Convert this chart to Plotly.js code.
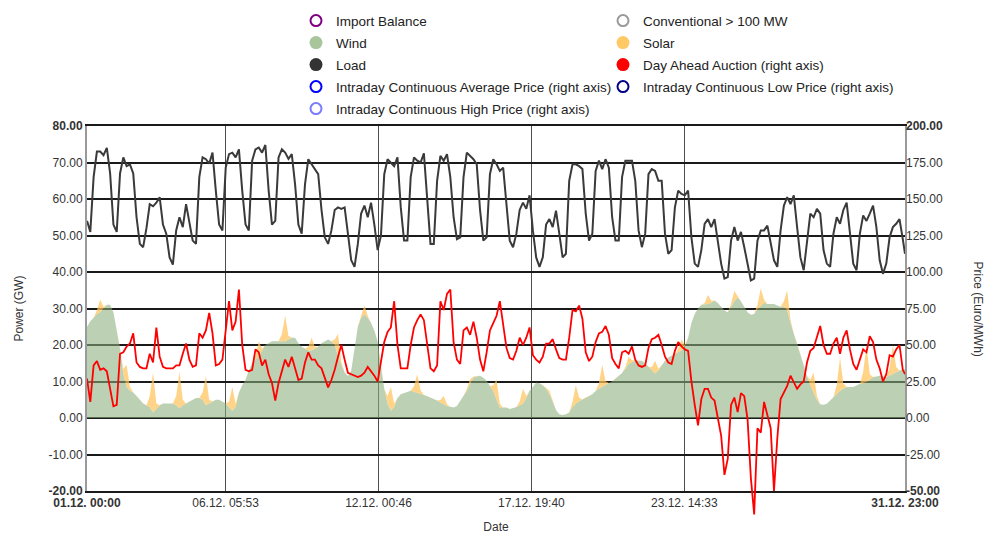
<!DOCTYPE html>
<html>
<head>
<meta charset="utf-8">
<script src="https://cdn.plot.ly/plotly-3.0.1.min.js"></script>
<style>
  html, body { margin: 0; padding: 0; background: #ffffff; }
  #chart { width: 985px; height: 534px; }
</style>
</head>
<body>
<div id="chart"></div>
<script>
// ---------------- data (3-hourly samples, Dec 1 00:00 ... Dec 31 21:00, plus Dec 31 23:00) ----------------
const START_DAY = '2016-12-01';
const STEP_HOURS = 3;
const LAST_HOUR = 743;

// Load (GW)
const loadGW = [
  54, 51, 66, 73, 73, 72, 74, 67,
  53, 51, 67, 71.4, 69, 69.5, 67, 55,
  47.7, 46.8, 52, 58.6, 58, 59, 60.5, 53,
  50.5, 44, 42, 51.4, 55, 52.3, 58.6, 54,
  48.6, 47.7, 66, 71.4, 70.9, 69.7, 72.7, 62.3,
  53, 51.4, 68.6, 72.3, 72.7, 71.4, 73.6, 62.3,
  53, 51.4, 70.5, 73.6, 74.1, 72.7, 74.8, 62.3,
  53, 54, 71.4, 73.6, 72.7, 71, 72.3, 64,
  53, 50.5, 64, 70.9, 69.5, 68.2, 66.8, 57,
  49.5, 47.7, 51.4, 57, 57.7, 57.3, 57.7, 50.5,
  43.2, 41.4, 47.7, 56, 58.2, 55, 59, 53,
  46, 50, 66.8, 70.9, 70, 69, 71.4, 57.7,
  48.6, 48.6, 66, 71.4, 70.5, 70, 72.5, 60.5,
  47.7, 47.7, 65, 71.8, 70.5, 72.3, 66, 55,
  49, 49.5, 66, 72.7, 71.8, 70.9, 69.5, 57,
  48.6, 49.5, 66.8, 70.9, 69.5, 67.7, 68.6, 57.7,
  48.6, 46.8, 50.5, 57, 59, 57.3, 61, 51.4,
  44, 41.4, 44, 53, 54.5, 52.3, 56.8, 50.5,
  44, 45, 65, 69.5, 69.5, 69, 68.2, 56,
  48.6, 50.5, 67.7, 70.5, 68.2, 70.9, 68.6, 55,
  48.6, 48.6, 66, 70.5, 70.5, 70.5, 65, 51.4,
  46.8, 50.5, 66.8, 68.2, 67.7, 65, 65, 50.5,
  45, 46, 57.7, 62.3, 61.4, 61, 62.3, 49.5,
  42.3, 41.4, 46, 53.2, 54.5, 52.3, 54.5, 47.7,
  42.3, 38.2, 38.6, 48.6, 52.3, 48.6, 51, 46.8,
  42.3, 37.7, 38.2, 48.6, 51.4, 51.4, 52.7, 47.7,
  43.2, 41.4, 51.4, 58.2, 60.5, 58.6, 61, 52.3,
  44, 40.5, 47.7, 56, 55, 57.3, 56, 46,
  42.3, 41.4, 50.5, 55, 53.2, 57, 59, 50.5,
  42.3, 40.5, 50.5, 55.5, 54, 56, 58.2, 52.3,
  43.2, 39.5, 42.3, 49.5, 52.3, 53.2, 54.5, 49,
  45
];

// Wind (GW)
const windGW = [
  25, 26.5, 27.5, 28.5, 29, 30, 31, 31,
  29, 24, 19, 12, 8.5, 7.5, 7, 6,
  5, 4, 3.5, 3, 1.5, 2.5, 3.5, 4,
  4, 4, 4, 3.5, 2.7, 3.5, 4, 4.5,
  5, 5.5, 5.5, 5, 3.5, 4, 4.5, 5,
  5, 4.5, 4, 3, 2, 3, 7, 9,
  10.5, 13, 15, 16, 17, 18.5, 20, 20.5,
  21, 21, 21, 21, 21, 21.5, 22, 22,
  20.5, 19.5, 19, 18.5, 18.5, 19, 19.5, 20.5,
  21, 21.5, 21, 20, 17, 14.5, 12.5, 11.5,
  13, 19, 25, 27.5, 28.4, 27.5, 26, 24,
  21, 14, 8, 4, 2, 3, 5.5, 6.5,
  6.8, 7.2, 7.5, 7.2, 7, 6.6, 6.3, 6,
  5.5, 5.2, 4.8, 4.4, 3.8, 3.3, 3, 2.9,
  3.3, 4.7, 6, 7.5, 9.3, 11.1, 11.4, 11.6,
  11, 10.2, 8.8, 7.5, 5, 2.9, 2.9, 2.9,
  2.5, 2.7, 3, 3.5, 4, 5.5, 7.5, 8.5,
  9.7, 9.5, 9, 8, 6.5, 4.5, 2.2, 1,
  0.8, 1, 1.5, 3, 4, 4.6, 5, 5.4,
  6, 6.5, 7.4, 8, 8.6, 9.1, 9.6, 10,
  10.7, 11.6, 12.3, 13.5, 14.8, 15.3, 15.7, 15.7,
  15.7, 15, 14, 13, 12.2, 13, 14.5, 15.7,
  16.6, 17, 17.5, 18, 18.5, 19.5, 22, 26,
  28.5, 30, 31, 31, 31.2, 31.6, 32.2, 31.5,
  30.5, 29.5, 29, 30.5, 32, 33, 32, 30.5,
  29, 28.3, 28.5, 29.8, 30.7, 31.6, 31.2, 31.2,
  31.2, 30.8, 30.5, 30.5, 29.5, 26, 23, 20.5,
  17.5, 14.5, 11.5, 9, 7, 5, 3.8, 3.6,
  3.9, 4.8, 5.7, 6.6, 7.5, 8, 8.5, 8.5,
  8.5, 8.9, 9.4, 9.6, 9.8, 10.5, 11.2, 11.4,
  11.6, 11.4, 11.2, 11.6, 12.1, 12.5, 13, 13.3,
  13.4
];

// Solar (GW)
const solarGW = [
  0, 0, 0, 1, 3.5, 0.5, 0, 0,
  0, 0, 0, 1.5, 6, 1, 0, 0,
  0, 0, 0, 3, 11, 1.5, 0, 0,
  0, 0, 0, 2.5, 10, 1.5, 0, 0,
  0, 0, 0, 2, 8, 1, 0, 0,
  0, 0, 0, 1.5, 6.5, 1, 0, 0,
  0, 0, 0, 1, 4, 0.5, 0, 0,
  0, 0, 0, 2, 7, 1, 0, 0,
  0, 0, 0, 1, 3.5, 0.5, 0, 0,
  0, 0, 0, 1.5, 6, 1, 0, 0,
  0, 0, 0, 0.5, 2.5, 0.5, 0, 0,
  0, 0, 0, 2, 6.5, 1, 0, 0,
  0, 0, 0, 1.5, 5, 1, 0, 0,
  0, 0, 0, 0.5, 2.2, 0.5, 0, 0,
  0, 0, 0, 0.5, 1.3, 0.3, 0, 0,
  0, 0, 0, 1.5, 5.5, 1, 0, 0,
  0, 0, 0, 1, 4, 0.5, 0, 0,
  0, 0, 0, 0.3, 1, 0.2, 0, 0,
  0, 0, 0, 1.5, 5, 1, 0, 0,
  0, 0, 0, 1.5, 6, 1, 0, 0,
  0, 0, 0, 0.5, 2, 0.5, 0, 0,
  0, 0, 0, 1, 3.5, 0.5, 0, 0,
  0, 0, 0, 1, 3, 0.5, 0, 0,
  0, 0, 0, 0.5, 2.5, 0.5, 0, 0,
  0, 0, 0, 0.8, 2.8, 0.5, 0, 0,
  0, 0, 0, 1.2, 4.8, 0.8, 0, 0,
  0, 0, 0, 1.5, 5.5, 1, 0, 0,
  0, 0, 0, 1.5, 5.5, 1, 0, 0,
  0, 0, 0, 2.5, 9, 1.5, 0, 0,
  0, 0, 0, 3, 10, 1.5, 0, 0,
  0, 0, 0, 2, 8, 1.5, 0, 0,
  0
];

// Day Ahead Auction price (Euro/MWh, right axis)
const dayAheadEUR = [
  27, 11, 36, 39, 33, 34, 32, 19,
  8, 9, 44, 45, 49, 51, 58, 38,
  35, 34, 34, 44, 38, 62, 42, 35,
  34, 34, 34, 36, 36, 44, 51, 40,
  35, 36, 58, 55, 60, 72, 58, 36,
  37, 40, 62, 80, 60, 66, 88, 50,
  33, 32, 33, 47, 45, 36, 40, 30,
  24, 12, 24, 33, 40, 35, 42, 34,
  26, 27, 38, 45, 40, 40, 36, 34,
  27, 21, 26, 33, 42, 50, 40, 31,
  30, 29, 28, 29, 31, 35, 32, 29,
  25, 40, 52, 59, 62, 80, 50, 34,
  34, 34, 50, 62, 67, 71, 67, 50,
  34, 32, 36, 80, 74, 85, 88, 52,
  40, 37, 60, 62, 57, 66, 55, 40,
  32, 45, 60, 65, 70, 80, 62, 48,
  41, 40, 46, 55, 50, 55, 62, 43,
  40, 38, 42, 51, 51, 54, 47, 41,
  40, 40, 55, 74, 73, 77, 68, 45,
  39, 42, 52, 58, 59, 63, 57, 41,
  37, 34, 45, 46, 44, 49, 40, 36,
  35, 36, 48, 54, 55, 57, 50, 42,
  38, 37, 46, 52, 49, 47, 46, 25,
  9, -5, 13, 20, 20, 14, 12, -1,
  -12, -39, -28, 9, 14, 4, 17, 15,
  -1, -41, -66, -7, -10, 11, 2, -7,
  -50, -14, 13, 17, 22, 29, 25, 20,
  23, 25, 38, 46, 48, 55, 63, 50,
  44, 44, 51, 55, 44, 55, 60, 47,
  37, 33, 40, 47, 45, 56, 52, 40,
  34, 25, 30, 43, 42, 47, 50, 33,
  30
];

// axes ticks
const tickTimes = ['2016-12-01 00:00', '2016-12-06 05:53', '2016-12-12 00:46',
                   '2016-12-17 19:40', '2016-12-23 14:33', '2016-12-31 23:00'];
const tickLabels = ['<b>01.12. 00:00</b>', '06.12. 05:53', '12.12. 00:46',
                    '17.12. 19:40', '23.12. 14:33', '<b>31.12. 23:00</b>'];
const powerTicks = [-20, -10, 0, 10, 20, 30, 40, 50, 60, 70, 80];
const priceTicks = [-50, -25, 0, 25, 50, 75, 100, 125, 150, 175, 200];

// legend entries (left column, right column)
const legendLeftNames = ['Import Balance', 'Wind', 'Load',
  'Intraday Continuous Average Price (right axis)', 'Intraday Continuous High Price (right axis)'];
const legendLeftColors = ['#800080', '#a9c59c', '#333333', '#0000ff', '#7b7bff'];
const legendLeftOpen = [true, false, false, true, true];
const legendRightNames = ['Conventional > 100 MW', 'Solar', 'Day Ahead Auction (right axis)',
  'Intraday Continuous Low Price (right axis)'];
const legendRightColors = ['#9a9a9a', '#ffc966', '#ff0000', '#00008b'];
const legendRightOpen = [true, false, false, true];

// ---------------- build ----------------
function pad(n) { return (n < 10 ? '0' : '') + n; }
const base = Date.UTC(2016, 11, 1, 0, 0);
const hours = [];
for (let h = 0; h < LAST_HOUR; h += STEP_HOURS) hours.push(h);
hours.push(LAST_HOUR);
const times = hours.map(h => {
  const d = new Date(base + h * 3600000);
  return d.getUTCFullYear() + '-' + pad(d.getUTCMonth() + 1) + '-' + pad(d.getUTCDate()) +
         ' ' + pad(d.getUTCHours()) + ':' + pad(d.getUTCMinutes());
});

const traces = [];
function addLegendEntries(names, colors, open, legendId, prefix) {
  names.forEach((name, i) => {
    traces.push({
      type: 'scatter', mode: 'markers', x: [null], y: [null], name: name,
      legend: legendId, legendgroup: prefix + i,
      xaxis: 'x', yaxis: 'y', hoverinfo: 'skip',
      marker: open[i]
        ? { symbol: 'circle-open', size: 11, color: colors[i], line: { width: 2, color: colors[i] } }
        : { symbol: 'circle', size: 13, color: colors[i] }
    });
  });
}
addLegendEntries(legendLeftNames, legendLeftColors, legendLeftOpen, 'legend', 'L');
addLegendEntries(legendRightNames, legendRightColors, legendRightOpen, 'legend2', 'R');

traces.push({
  type: 'scatter', mode: 'lines', x: times, y: windGW, name: 'Wind', showlegend: false,
  stackgroup: 'renew', line: { width: 0, color: 'rgba(140,175,125,0.58)' },
  fillcolor: 'rgba(140,175,125,0.58)', xaxis: 'x', yaxis: 'y'
});
traces.push({
  type: 'scatter', mode: 'lines', x: times, y: solarGW, name: 'Solar', showlegend: false,
  stackgroup: 'renew', line: { width: 0, color: 'rgba(255,196,90,0.72)' },
  fillcolor: 'rgba(255,196,90,0.72)', xaxis: 'x', yaxis: 'y'
});
traces.push({
  type: 'scatter', mode: 'lines', x: times, y: loadGW, name: 'Load', showlegend: false,
  line: { width: 2, color: '#3a3a3a' }, xaxis: 'x', yaxis: 'y'
});
traces.push({
  type: 'scatter', mode: 'lines', x: times, y: dayAheadEUR, name: 'Day Ahead Auction (right axis)',
  showlegend: false, line: { width: 1.8, color: '#ff0000' }, xaxis: 'x2', yaxis: 'y2'
});

// geometry: main plot area 126..491 px; the price subplot extends to the bottom edge (534 px)
const FIG_H = 534, TOP = 126, MAIN_BOTTOM = 491;
const paperH = FIG_H - TOP;
const mainBottomFrac = (FIG_H - MAIN_BOTTOM) / paperH;
const priceMin = -50 - (FIG_H - MAIN_BOTTOM) / ((MAIN_BOTTOM - TOP) / 250);

const tickFont = { family: 'Liberation Sans, Arial, sans-serif', size: 12, color: '#333333' };
const legendFont = { family: 'Liberation Sans, Arial, sans-serif', size: 13.5, color: '#222222' };
const legendTop = 1 + (TOP - 5.3) / paperH;

const layout = {
  width: 985, height: FIG_H,
  margin: { l: 87, r: 80, t: TOP, b: 0, pad: 0 },
  paper_bgcolor: '#ffffff', plot_bgcolor: 'rgba(0,0,0,0)',
  font: { family: 'Liberation Sans, Arial, sans-serif', size: 12, color: '#333333' },
  showlegend: true,
  legend: {
    orientation: 'v', x: (296 - 87) / 818, xanchor: 'left', y: legendTop, yanchor: 'top',
    traceorder: 'grouped', tracegroupgap: 1.45, font: legendFont,
    bgcolor: 'rgba(0,0,0,0)', itemwidth: 30
  },
  legend2: {
    orientation: 'v', x: (603 - 87) / 818, xanchor: 'left', y: legendTop, yanchor: 'top',
    traceorder: 'grouped', tracegroupgap: 1.45, font: legendFont,
    bgcolor: 'rgba(0,0,0,0)', itemwidth: 30
  },
  xaxis: {
    type: 'date', domain: [0, 1], anchor: 'y',
    range: [tickTimes[0], tickTimes[tickTimes.length - 1]],
    tickmode: 'array', tickvals: tickTimes, ticktext: tickLabels,
    ticks: '', showgrid: true, gridcolor: '#4d4d4d', gridwidth: 1.5,
    showline: true, linecolor: '#1a1a1a', linewidth: 2, mirror: true,
    zeroline: false, tickfont: tickFont, automargin: false,
    title: { text: 'Date', font: { size: 12, color: '#333333' }, standoff: 14 }
  },
  yaxis: {
    domain: [mainBottomFrac, 1], anchor: 'x', range: [-20, 80],
    tickmode: 'array', tickvals: powerTicks,
    ticktext: powerTicks.map((v, i) => (i === 0 || i === powerTicks.length - 1) ? '<b>' + v.toFixed(2) + '</b>' : v.toFixed(2)),
    ticks: '', showgrid: true, gridcolor: '#1a1a1a', gridwidth: 2, zeroline: false,
    showline: true, linecolor: '#9a9a9a', linewidth: 2, mirror: true,
    tickfont: tickFont, automargin: false,
    title: { text: 'Power (GW)', font: { size: 12, color: '#333333' }, standoff: 22 }
  },
  xaxis2: {
    type: 'date', domain: [0, 1], anchor: 'y2',
    range: [tickTimes[0], tickTimes[tickTimes.length - 1]],
    visible: false, showgrid: false, zeroline: false
  },
  yaxis2: {
    domain: [0, 1], anchor: 'x2', side: 'right', range: [priceMin, 200],
    tickmode: 'array', tickvals: priceTicks,
    ticktext: priceTicks.map((v, i) => (i === 0 || i === priceTicks.length - 1) ? '<b>' + v.toFixed(2) + '</b>' : v.toFixed(2)),
    ticks: '', showgrid: false, zeroline: false, showline: false,
    tickfont: tickFont, automargin: false
  },
  annotations: [{
    text: 'Price (Euro/MWh)', xref: 'paper', yref: 'paper',
    x: (978 - 87) / 818, y: (FIG_H - 308.5) / paperH, xanchor: 'center', yanchor: 'middle',
    textangle: 90, showarrow: false, font: { size: 12, color: '#333333' }
  }]
};

Plotly.newPlot('chart', traces, layout, { displayModeBar: false, staticPlot: true });
</script>
</body>
</html>
